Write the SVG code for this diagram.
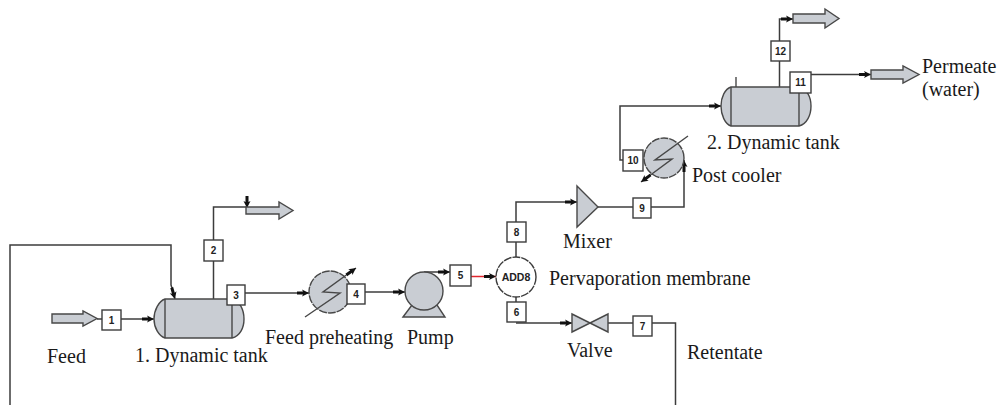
<svg xmlns="http://www.w3.org/2000/svg" width="1000" height="405" viewBox="0 0 1000 405">
<style>
.c{fill:none;stroke:#3c3c3c;stroke-width:1.5}
.r{fill:none;stroke:#e0262e;stroke-width:1.5}
.s{fill:#c9cdd3;stroke:#484848;stroke-width:1.4}
.o{fill:none;stroke:#484848;stroke-width:1.4}
.d{stroke-dasharray:8 1}
.b{fill:#fff;stroke:#3c3c3c;stroke-width:1.4}
.n{font:bold 10px "Liberation Sans",Arial,sans-serif;fill:#222;text-anchor:middle}
.t{font:20px "Liberation Serif","Times New Roman",serif;fill:#1a1a1a}
</style>
<defs>
<marker id="a" markerUnits="userSpaceOnUse" markerWidth="14" markerHeight="10" refX="12" refY="5" orient="auto"><path d="M0 3.500L6 3.500L5 1.500L12 5L5 8.500L6 6.500L0 6.500Z" fill="#111"/></marker>
</defs>
<g id="connectors">
<path class="c" marker-end="url(#a)" d="M10 405V245H171V285L175 299"/>
<path class="c" d="M97 319H102"/>
<path class="c" marker-end="url(#a)" d="M121 319H154"/>
<path class="c" d="M213.500 299V261"/>
<path class="c" d="M213.500 240V207H246"/>
<path class="c" marker-end="url(#a)" d="M247 198V208"/>
<path class="c" marker-end="url(#a)" d="M245 293H309"/>
<path class="c" marker-end="url(#a)" d="M365 292H405"/>
<path class="c" marker-end="url(#a)" d="M424 272H450"/>
<path class="r" marker-end="url(#a)" d="M471 276.500H496"/>
<path class="c" d="M516 242V257"/>
<path class="c" d="M516 297V302"/>
<path class="c" marker-end="url(#a)" d="M516 323H572"/>
<path class="c" d="M608 323H633"/>
<path class="c" d="M652 323H675.500V405"/>
<path class="c" marker-end="url(#a)" d="M516 222V202H577"/>
<path class="c" d="M598 207H633"/>
<path class="c" marker-end="url(#a)" d="M651 207H684V160"/>
<path class="c" marker-end="url(#a)" d="M623 160H620V106H721"/>
<path class="c" d="M779.500 87V61"/>
<path class="c" marker-end="url(#a)" d="M779.500 41V19H793"/>
<path class="c" marker-end="url(#a)" d="M811 74.500H871"/>
</g>
<g id="feed"><path class="s" d="M52 314H83V311L97 318.500L83 326V323H52Z"/><text class="t" x="47" y="363">Feed</text></g>
<g id="s1"><rect class="b" x="102" y="310" width="19" height="20"/><text class="n" x="111.500" y="323.500">1</text></g>
<g id="tank1"><path class="s" d="M165 299H232C240 301 244 310 244 319C244 328 240 336 232 338H165C159 336 154 328 154 319C154 310 159 301 165 299Z"/><path class="o" d="M165 299V338M232 299V338"/><text class="t" x="135" y="362">1. Dynamic tank</text></g>
<g id="s2"><rect class="b" x="204" y="240" width="19" height="21"/><text class="n" x="213.500" y="254">2</text></g>
<g id="out1"><path class="s" d="M246 207H279V202L293 210.500L279 219V214H246Z"/></g>
<g id="s3"><rect class="b" x="227" y="285" width="18" height="20"/><text class="n" x="236" y="298.500">3</text></g>
<g id="preheater"><circle class="s d" cx="330" cy="292" r="21"/><path class="o" marker-end="url(#a)" d="M305 317L340 293L323 292L356 268"/><text class="t" x="265" y="344">Feed preheating</text></g>
<g id="s4"><rect class="b" x="347" y="284" width="18" height="20"/><text class="n" x="356" y="297.500">4</text></g>
<g id="pump"><path class="s" d="M403 317L412 305H437L445 317Z"/><circle class="s" cx="424" cy="291" r="19"/><text class="t" x="407" y="344">Pump</text></g>
<g id="s5"><rect class="b" x="450" y="265" width="21" height="21"/><text class="n" x="460.500" y="279">5</text></g>
<g id="membrane"><circle class="b d" cx="516" cy="277" r="20"/><text class="n" x="516" y="281" style="font-size:10.500px">ADD8</text><text class="t" x="549" y="285">Pervaporation membrane</text></g>
<g id="s6"><rect class="b" x="507" y="302" width="19" height="20"/><text class="n" x="516.500" y="315.500">6</text></g>
<g id="valve"><path class="s" d="M572 314L608 332V314L572 332Z"/><text class="t" x="567" y="357">Valve</text></g>
<g id="s7"><rect class="b" x="633" y="316" width="19" height="20"/><text class="n" x="642.500" y="329.500">7</text></g>
<g id="retentate"><text class="t" x="687" y="359">Retentate</text></g>
<g id="s8"><rect class="b" x="507" y="222" width="19" height="20"/><text class="n" x="516.500" y="235.500">8</text></g>
<g id="mixer"><path class="s" d="M577 186L598 207L577 227Z"/><text class="t" x="563" y="248">Mixer</text></g>
<g id="s9"><rect class="b" x="633" y="198" width="18" height="20"/><text class="n" x="642" y="211.500">9</text></g>
<g id="cooler"><circle class="s d" cx="664" cy="158" r="20"/><path class="o" marker-end="url(#a)" d="M688 136L655 160L672 159L641 182"/><text class="t" x="692" y="182">Post cooler</text></g>
<g id="s10"><rect class="b" x="623" y="150" width="20" height="21"/><text class="n" x="633" y="164">10</text></g>
<g id="tank2"><path class="o" d="M736 77V87"/><path class="s" d="M731 87H799C807 89 811 97 811 106C811 115 807 124 799 126H731C725 124 721 115 721 106C721 97 725 89 731 87Z"/><path class="o" d="M731 87V126M799 87V126"/><text class="t" x="707" y="149">2. Dynamic tank</text></g>
<g id="s11"><rect class="b" x="790" y="72" width="21" height="21"/><text class="n" x="800.500" y="86">11</text></g>
<g id="s12"><rect class="b" x="771" y="41" width="19" height="20"/><text class="n" x="780.500" y="54.500">12</text></g>
<g id="out2"><path class="s" d="M793 14H825V9L839 18.500L825 28V23H793Z"/></g>
<g id="permeate"><path class="s" d="M871 70H903V66L919 74.500L903 83V79H871Z"/><text class="t" x="922" y="73">Permeate</text><text class="t" x="922" y="96">(water)</text></g>
</svg>
